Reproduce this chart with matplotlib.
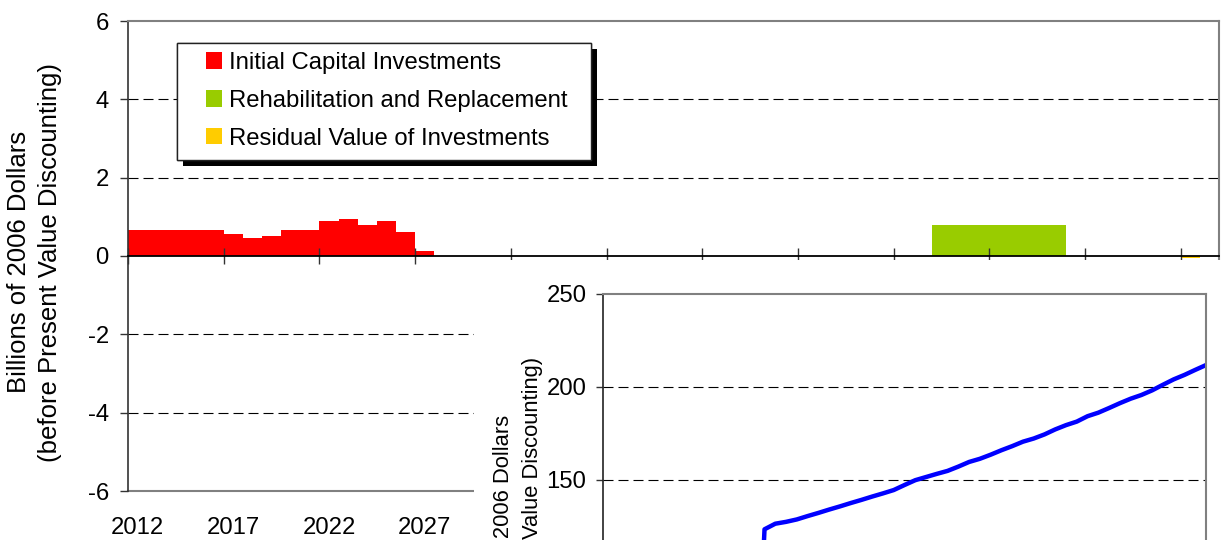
import matplotlib.pyplot as plt
import matplotlib.patheffects as pe
from matplotlib.patches import Rectangle
import numpy as np

plt.rcParams['font.family'] = ['Liberation Sans', 'DejaVu Sans']

# bar chart data (billions of 2006 dollars)
capital_years = list(range(2012, 2028))
capital_values = [0.67, 0.67, 0.67, 0.67, 0.67, 0.57, 0.47, 0.52,
                  0.67, 0.67, 0.90, 0.95, 0.80, 0.90, 0.62, 0.14]
rehab_years = list(range(2054, 2061))
rehab_values = [0.80, 0.80, 0.80, 0.80, 0.80, 0.80, 0.80]
residual_years = [2067]
residual_values = [-0.06]

first_year, last_year = 2012, 2068
year_labels = list(range(2012, 2068, 5))
main_yticks = [-6, -4, -2, 0, 2, 4, 6]

# inset line (cumulative), only the top of it shows
line_years = list(range(2026, 2069))
line_values = [0, 123.5, 126.5, 127.5, 128.8, 130.6, 132.3, 134.1, 135.8, 137.6,
               139.3, 141.1, 142.8, 144.6, 147.3, 149.9, 151.6, 153.3, 154.9, 157.2,
               159.7, 161.4, 163.6, 166.0, 168.2, 170.6, 172.3, 174.5, 177.2, 179.5,
               181.4, 184.3, 186.2, 188.7, 191.3, 193.7, 195.7, 198.2, 201.2, 204.1,
               206.5, 209.2, 211.8]
inset_yticks = [0, 50, 100, 150, 200, 250]

W, H = 1221, 540
fig = plt.figure(figsize=(W / 100, H / 100), dpi=100)

def px_box(left, top, right, bottom):
    return [left / W, 1 - bottom / H, (right - left) / W, (bottom - top) / H]

gray = '#808080'
fs = 17.2
title_fs = 18.5
ylabel_text = 'Billions of 2006 Dollars\n(before Present Value Discounting)'

# ---------- main chart ----------
ax = fig.add_axes(px_box(128, 21, 1219, 491))
ax.set_zorder(1)
ax.bar(capital_years, capital_values, width=1, color='#FF0000', label='Initial Capital Investments')
ax.bar(rehab_years, rehab_values, width=1, color='#99CC00', label='Rehabilitation and Replacement')
ax.bar(residual_years, residual_values, width=1, color='#FFCC00', label='Residual Value of Investments')

ax.set_xlim(first_year - 0.5, last_year + 0.5)
ax.set_ylim(-6, 6)
ax.set_yticks(main_yticks, labels=[str(t) for t in main_yticks], fontsize=fs)
ax.tick_params(axis='y', direction='out', length=5.8, width=1, color='#333333', pad=8)
for t in main_yticks[1:-1]:
    if t != 0:
        ax.axhline(t, color='black', lw=0.8, dashes=(9, 4.5), zorder=0.5)

ax.spines['bottom'].set_position(('data', 0))
ax.spines['bottom'].set_color('black')
ax.spines['bottom'].set_linewidth(1.3)
ax.spines['left'].set_color('#333333')
ax.spines['left'].set_linewidth(1.2)
for s in ('top', 'right'):
    ax.spines[s].set_color(gray)
    ax.spines[s].set_linewidth(1.5)
ax.set_xticks(np.arange(first_year - 0.5, last_year + 0.5, 5))
ax.tick_params(axis='x', direction='inout', length=11, width=1, color='#333333',
               labelbottom=False)

secax = ax.secondary_xaxis(0.0)
secax.set_xticks(year_labels, labels=[str(y) for y in year_labels], fontsize=fs)
secax.tick_params(length=0, pad=19)
secax.spines['bottom'].set_color(gray)
secax.spines['bottom'].set_linewidth(1.5)

fig.text(34.5 / W, 1 - 262 / H, ylabel_text, rotation=90, ha='center', va='center',
         fontsize=title_fs, linespacing=1.35)

# legend with black drop shadow
frame = Rectangle((0.0449, 0.7043), 0.3792, 0.249, transform=ax.transAxes,
                  facecolor='white', edgecolor='#222222', lw=1, zorder=4)
frame.set_path_effects([pe.withSimplePatchShadow(offset=(4.5, -4.5), shadow_rgbFace='black',
                                                 alpha=1), pe.Normal()])
ax.add_patch(frame)
leg = ax.legend(loc='upper left', bbox_to_anchor=((206 - 128) / 1091, (491 - 52) / 470),
                frameon=False, fontsize=fs, borderpad=0, handlelength=0.68,
                handleheight=0.68, handletextpad=0.3, labelspacing=0.66, borderaxespad=0)
leg.set_zorder(5)

# ---------- white backing for the inset chart ----------
bg = fig.add_axes(px_box(474, 259.5, W, H + 5))
bg.set_zorder(2)
bg.set_facecolor('white')
bg.set_xticks([])
bg.set_yticks([])
for s in bg.spines.values():
    s.set_visible(False)

# ---------- inset chart ----------
ax2 = fig.add_axes(px_box(603, 294, 1206, 759))
ax2.set_zorder(3)
ax2.plot(line_years, line_values, color='#0000FF', lw=3.2, solid_joinstyle='round')
ax2.set_xlim(first_year, last_year)
ax2.set_ylim(0, 250)
ax2.set_yticks(inset_yticks, labels=[str(t) for t in inset_yticks], fontsize=fs)
ax2.tick_params(axis='y', direction='out', length=5, width=1, color='#333333', pad=7)
ax2.tick_params(axis='x', bottom=False, labelbottom=False)
for t in inset_yticks[1:-1]:
    ax2.axhline(t, color='black', lw=0.8, dashes=(9, 4.5), zorder=0.5)
ax2.spines['left'].set_color('#222222')
ax2.spines['left'].set_linewidth(1.2)
for s in ('top', 'right'):
    ax2.spines[s].set_color(gray)
    ax2.spines[s].set_linewidth(1.5)

fig.text(518 / W, 1 - 526.5 / H, ylabel_text, rotation=90, ha='center', va='center',
         fontsize=15.8, linespacing=1.45, zorder=4)

fig.savefig('out.png', dpi=100)
